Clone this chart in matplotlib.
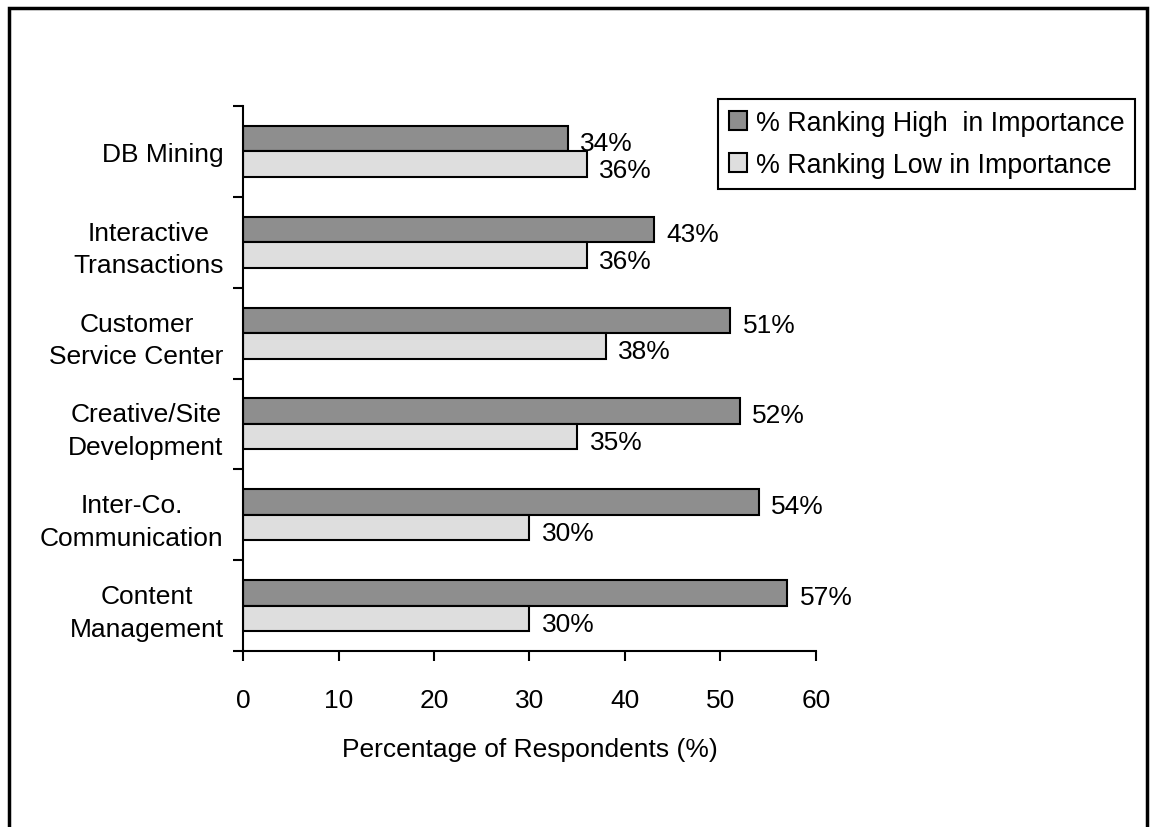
import numpy as np
import matplotlib
matplotlib.use("Agg")
import matplotlib.pyplot as plt
from matplotlib.patches import Rectangle

plt.rcParams['font.family'] = ['Liberation Sans', 'DejaVu Sans']

categories = ["DB Mining", "Interactive\nTransactions", "Customer\nService Center",
              "Creative/Site\nDevelopment", "Inter-Co.\nCommunication", "Content\nManagement"]
high_vals = [34, 43, 51, 52, 54, 57]
low_vals = [36, 36, 38, 35, 30, 30]
series_names = ["% Ranking High  in Importance", "% Ranking Low in Importance"]
x_ticks = [0, 10, 20, 30, 40, 50, 60]

DARK = "#8e8e8e"
LIGHT = "#dedede"
FS = 19

fig = plt.figure(figsize=(11.52, 8.28), dpi=100)
# outer frame (bottom edge is cut off in the original)
fig.patches.append(Rectangle((9 / 1152, -0.05), (1147 - 9) / 1152, 1 - 9 / 828 + 0.05,
                             transform=fig.transFigure, fill=False,
                             edgecolor="black", linewidth=2.5))

ax = fig.add_axes([243 / 1152, 1 - 652 / 828, (816 - 243) / 1152, (652 - 107) / 828])

n = len(categories)
y = np.arange(n)
h = 0.28
ax.barh(y - h / 2, high_vals, height=h, color=DARK, edgecolor="black", linewidth=1.5,
        label=series_names[0])
ax.barh(y + h / 2, low_vals, height=h, color=LIGHT, edgecolor="black", linewidth=1.5,
        label=series_names[1])

for i in range(n):
    ax.annotate(f"{high_vals[i]}%", (high_vals[i], y[i] - h / 2), xytext=(9, -3),
                textcoords="offset points", va="center", ha="left", fontsize=FS)
    ax.annotate(f"{low_vals[i]}%", (low_vals[i], y[i] + h / 2), xytext=(9, -4),
                textcoords="offset points", va="center", ha="left", fontsize=FS)

ax.set_ylim(n - 0.5, -0.5)
ax.set_xlim(0, 60)
ax.set_xticks(x_ticks)
ax.set_yticks(y)
ax.set_yticklabels(categories, fontsize=FS, multialignment="center", linespacing=1.45)
ax.set_yticks(np.arange(n + 1) - 0.5, minor=True)
ax.tick_params(axis="y", which="major", length=0, pad=14)
ax.tick_params(axis="y", which="minor", length=7, width=1.5, direction="out")
ax.tick_params(axis="x", length=7, width=1.5, direction="out", pad=20, labelsize=FS)

for s in ["top", "right"]:
    ax.spines[s].set_visible(False)
for s in ["left", "bottom"]:
    ax.spines[s].set_linewidth(1.5)

ax.set_xlabel("Percentage of Respondents (%)", fontsize=FS, labelpad=18)

leg = fig.legend(loc="upper left", bbox_to_anchor=(718 / 1152, 1 - 100 / 828),
                 borderaxespad=0, fontsize=19.3, frameon=True, fancybox=False,
                 framealpha=1, handlelength=0.7, handleheight=0.7, handletextpad=0.3,
                 borderpad=0.4, labelspacing=0.6)
leg.get_frame().set_edgecolor("black")
leg.get_frame().set_linewidth(1.5)

fig.savefig("out.png", dpi=100)
